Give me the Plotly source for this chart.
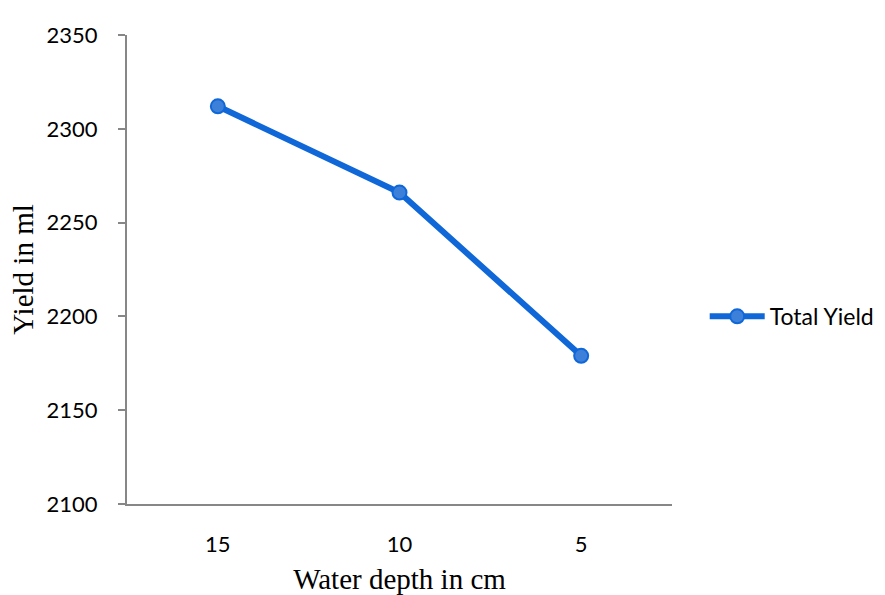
import plotly.graph_objects as go

categories = ["15", "10", "5"]
total_yield = [2312, 2266, 2179]
y_ticks = [2100, 2150, 2200, 2250, 2300, 2350]

fig = go.Figure()
fig.add_trace(go.Scatter(
    x=categories, y=total_yield, name="Total Yield",
    mode="lines+markers",
    line=dict(color="#0F67D8", width=6),
    marker=dict(size=14, color="#3C80DA", line=dict(color="#0F67D8", width=2)),
))

fig.update_layout(
    width=885, height=595,
    margin=dict(l=127, r=213, t=35, b=91, autoexpand=False),
    paper_bgcolor="white", plot_bgcolor="white",
    font=dict(family="Lato, Open Sans, sans-serif", size=22, color="black"),
    showlegend=True,
    legend=dict(x=1.06, y=0.40, xanchor="left", yanchor="middle",
                xref="paper", yref="paper", itemwidth=55,
                font=dict(family="Lato, Open Sans, sans-serif", size=23, color="black"),
                bgcolor="rgba(0,0,0,0)"),
)
fig.update_xaxes(
    type="category", range=[-0.5, 2.5], automargin=False,
    showline=True, linecolor="#878787", linewidth=2,
    ticks="", showgrid=False, zeroline=False,
    ticklabelstandoff=20,
    title=dict(text="Water depth in cm", standoff=12,
               font=dict(family="Liberation Serif, Times New Roman, serif", size=29)),
)
fig.update_yaxes(
    range=[2100, 2350], tickvals=y_ticks, automargin=False,
    showline=True, linecolor="#878787", linewidth=2,
    ticks="outside", ticklen=7, tickcolor="#878787", tickwidth=2,
    showgrid=False, zeroline=False,
    ticklabelstandoff=16,
    title=dict(text="Yield in ml", standoff=4,
               font=dict(family="Liberation Serif, Times New Roman, serif", size=29)),
)

fig.write_html("out.html")
